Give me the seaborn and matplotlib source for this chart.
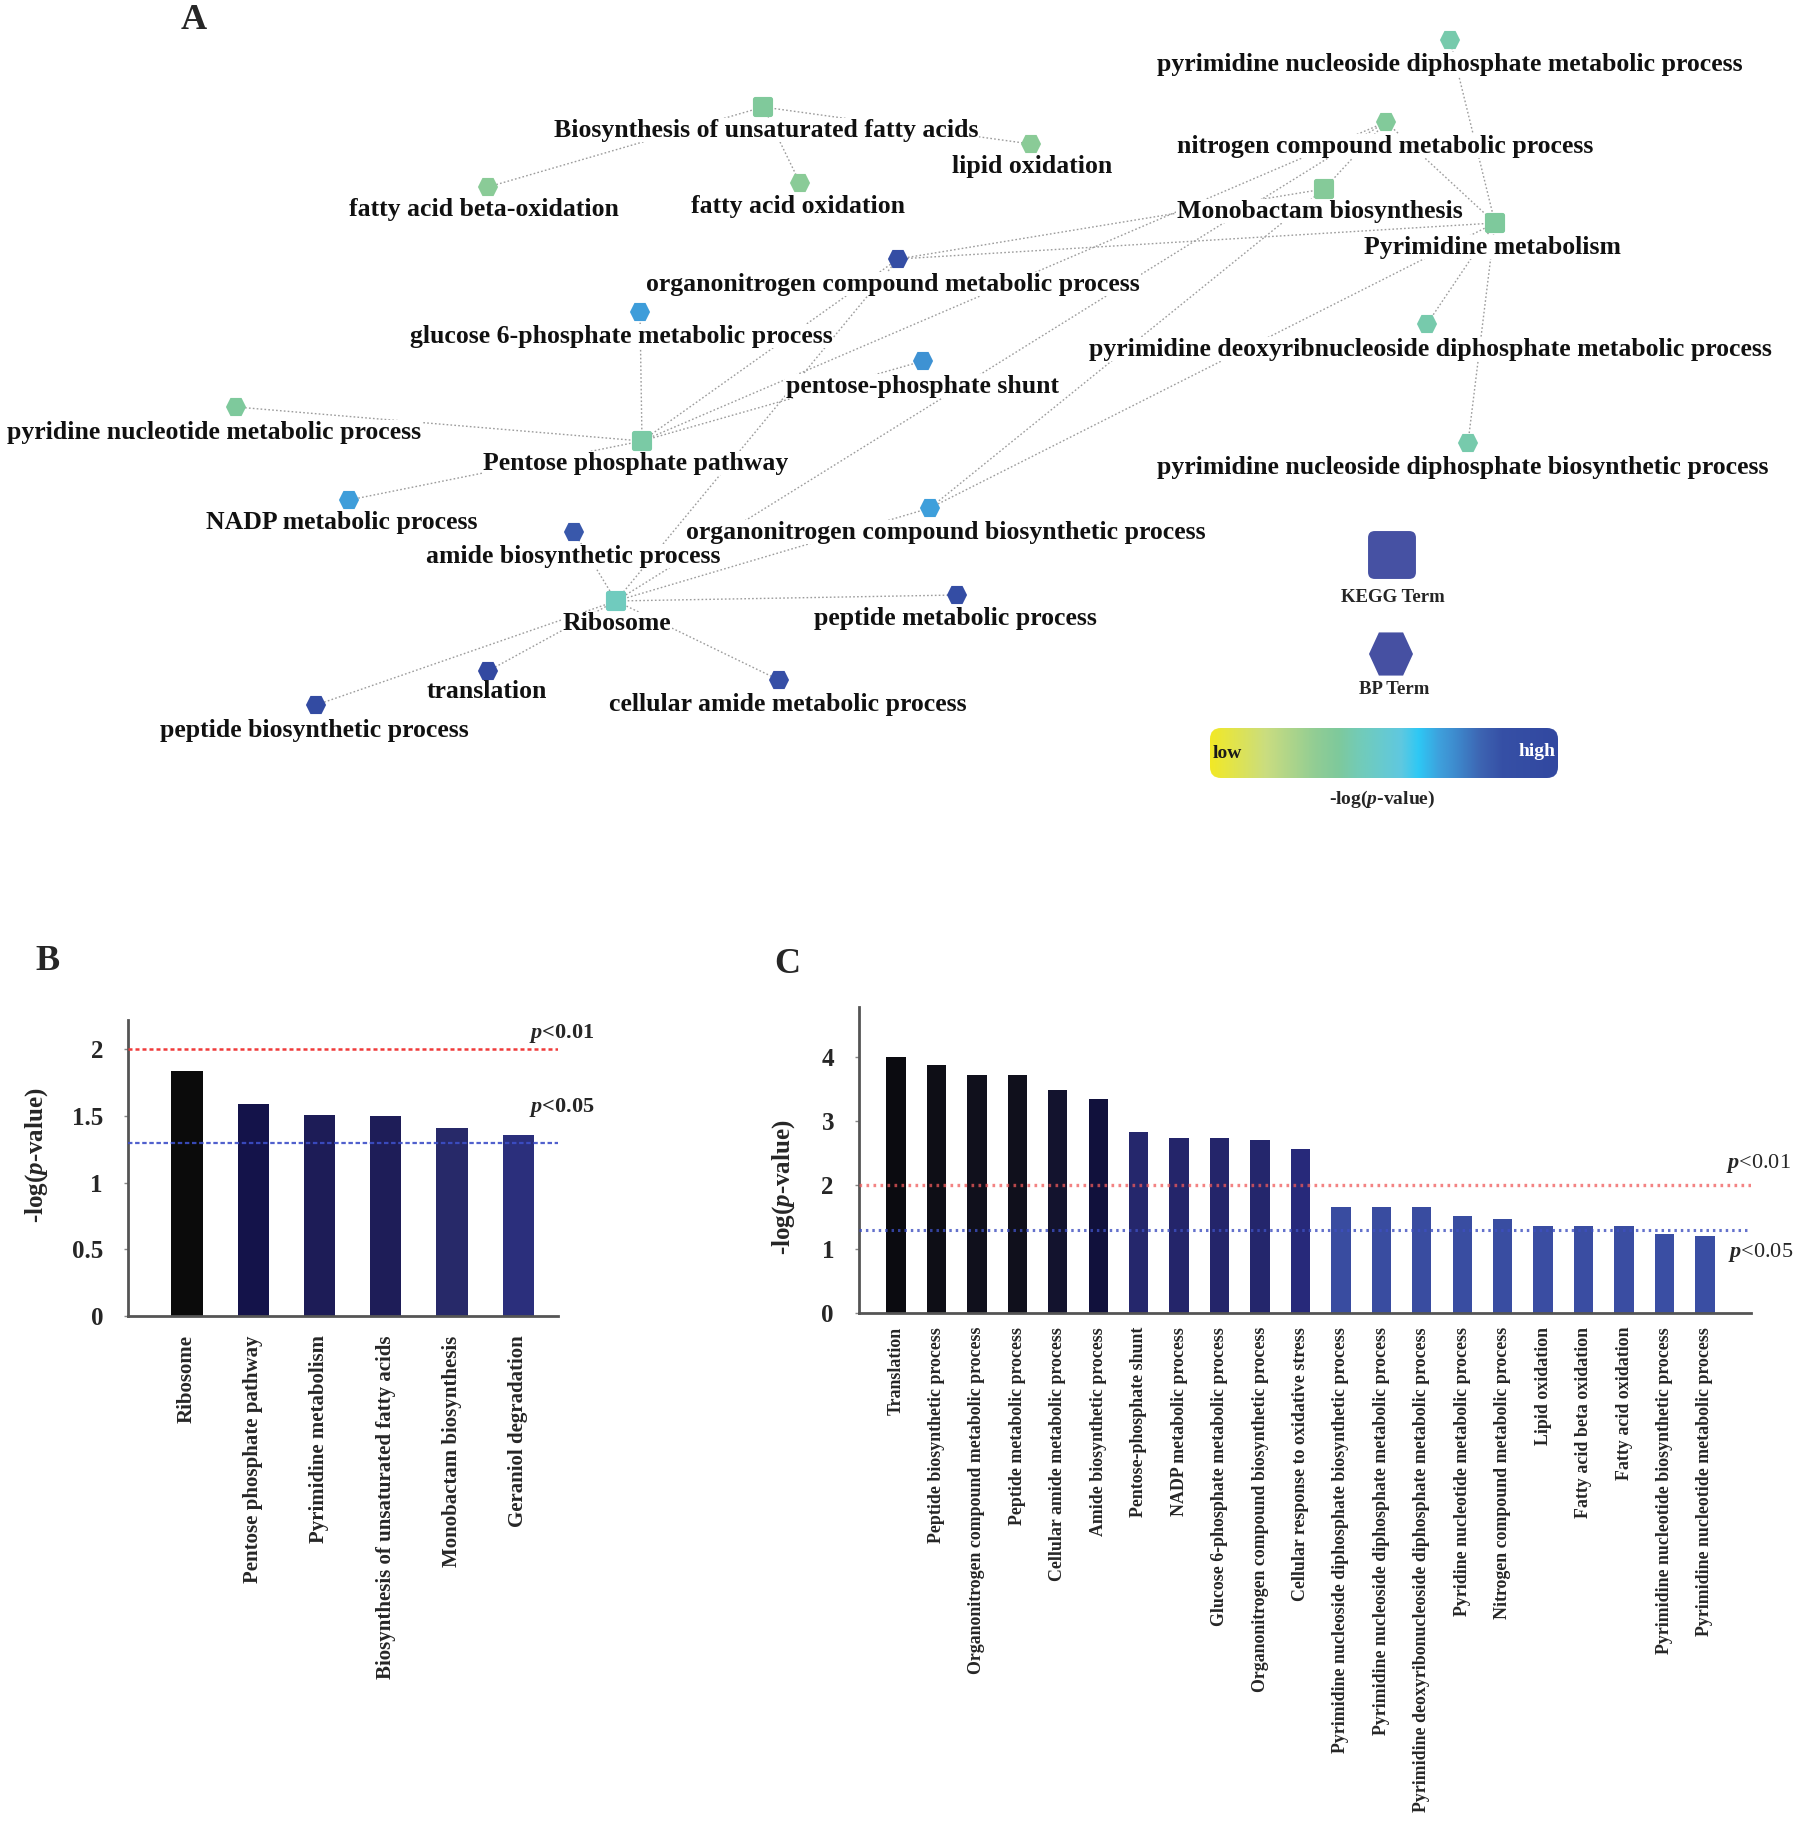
import numpy as np
import pandas as pd
import matplotlib
matplotlib.use("Agg")
import matplotlib.pyplot as plt
import seaborn as sns
from matplotlib.path import Path
from matplotlib.colors import LinearSegmentedColormap, Normalize
from matplotlib.patches import FancyBboxPatch

# ------------------------------------------------------------------ data
kegg_terms = ["Ribosome", "Pentose phosphate pathway", "Pyrimidine metabolism",
              "Biosynthesis of unsaturated fatty acids", "Monobactam biosynthesis",
              "Geraniol degradation"]
kegg_values = [1.84, 1.59, 1.51, 1.50, 1.41, 1.36]

bp_terms = ["Translation", "Peptide biosynthetic process",
            "Organonitrogen compound metabolic process", "Peptide metabolic process",
            "Cellular amide metabolic process", "Amide biosynthetic process",
            "Pentose-phosphate shunt", "NADP metabolic process",
            "Glucose 6-phosphate metabolic process",
            "Organonitrogen compound biosynthetic process",
            "Cellular response to oxidative stress",
            "Pyrimidine nucleoside diphosphate biosynthetic process",
            "Pyrimidine nucleoside diphosphate metabolic process",
            "Pyrimidine deoxyribonucleoside diphosphate metabolic process",
            "Pyridine nucleotide metabolic process",
            "Nitrogen compound metabolic process", "Lipid oxidation",
            "Fatty acid beta oxidation", "Fatty acid oxidation",
            "Pyrimidine nucleotide biosynthetic process",
            "Pyrimidine nucleotide metabolic process"]
bp_values = [4.00, 3.87, 3.71, 3.71, 3.48, 3.34, 2.83, 2.73, 2.73, 2.71, 2.56,
             1.66, 1.66, 1.66, 1.51, 1.47, 1.36, 1.36, 1.36, 1.24, 1.21]

p001_line = 2.0
p005_line = 1.30

b_yticks = [0, 0.5, 1, 1.5, 2]
b_yticklabels = ["0", "0.5", "1", "1.5", "2"]
c_yticks = [0, 1, 2, 3, 4]
c_yticklabels = ["0", "1", "2", "3", "4"]

# network: KEGG nodes (shown names) and BP nodes (shown name -> bar term)
net_kegg = ["Biosynthesis of unsaturated fatty acids", "Monobactam biosynthesis",
            "Pyrimidine metabolism", "Pentose phosphate pathway", "Ribosome"]
net_bp = {
    "pyrimidine nucleoside diphosphate metabolic process": "Pyrimidine nucleoside diphosphate metabolic process",
    "nitrogen compound metabolic process": "Nitrogen compound metabolic process",
    "lipid oxidation": "Lipid oxidation",
    "fatty acid beta-oxidation": "Fatty acid beta oxidation",
    "fatty acid oxidation": "Fatty acid oxidation",
    "organonitrogen compound metabolic process": "Organonitrogen compound metabolic process",
    "glucose 6-phosphate metabolic process": "Glucose 6-phosphate metabolic process",
    "pyrimidine deoxyribnucleoside diphosphate metabolic process": "Pyrimidine deoxyribonucleoside diphosphate metabolic process",
    "pentose-phosphate shunt": "Pentose-phosphate shunt",
    "pyridine nucleotide metabolic process": "Pyridine nucleotide metabolic process",
    "pyrimidine nucleoside diphosphate biosynthetic process": "Pyrimidine nucleoside diphosphate biosynthetic process",
    "NADP metabolic process": "NADP metabolic process",
    "organonitrogen compound biosynthetic process": "Organonitrogen compound biosynthetic process",
    "amide biosynthetic process": "Amide biosynthetic process",
    "peptide metabolic process": "Peptide metabolic process",
    "translation": "Translation",
    "cellular amide metabolic process": "Cellular amide metabolic process",
    "peptide biosynthetic process": "Peptide biosynthetic process",
}

edges = [
    ("Biosynthesis of unsaturated fatty acids", "fatty acid beta-oxidation"),
    ("Biosynthesis of unsaturated fatty acids", "fatty acid oxidation"),
    ("Biosynthesis of unsaturated fatty acids", "lipid oxidation"),
    ("Pentose phosphate pathway", "glucose 6-phosphate metabolic process"),
    ("Pentose phosphate pathway", "pentose-phosphate shunt"),
    ("Pentose phosphate pathway", "pyridine nucleotide metabolic process"),
    ("Pentose phosphate pathway", "NADP metabolic process"),
    ("Pentose phosphate pathway", "organonitrogen compound metabolic process"),
    ("Pentose phosphate pathway", "nitrogen compound metabolic process"),
    ("Monobactam biosynthesis", "nitrogen compound metabolic process"),
    ("Monobactam biosynthesis", "organonitrogen compound metabolic process"),
    ("Monobactam biosynthesis", "organonitrogen compound biosynthetic process"),
    ("Pyrimidine metabolism", "pyrimidine nucleoside diphosphate metabolic process"),
    ("Pyrimidine metabolism", "nitrogen compound metabolic process"),
    ("Pyrimidine metabolism", "pyrimidine deoxyribnucleoside diphosphate metabolic process"),
    ("Pyrimidine metabolism", "pyrimidine nucleoside diphosphate biosynthetic process"),
    ("Pyrimidine metabolism", "organonitrogen compound metabolic process"),
    ("Pyrimidine metabolism", "organonitrogen compound biosynthetic process"),
    ("Ribosome", "amide biosynthetic process"),
    ("Ribosome", "translation"),
    ("Ribosome", "peptide biosynthetic process"),
    ("Ribosome", "peptide metabolic process"),
    ("Ribosome", "cellular amide metabolic process"),
    ("Ribosome", "organonitrogen compound biosynthetic process"),
    ("Ribosome", "organonitrogen compound metabolic process"),
    ("Ribosome", "nitrogen compound metabolic process"),
]

# ------------------------------------------------------------------ layout (pixels, origin top-left)
layout = {  # node (x, y), label (x, y)
    "Biosynthesis of unsaturated fatty acids": ((763, 107), (766, 130)),
    "Monobactam biosynthesis": ((1324, 189), (1320, 211)),
    "Pyrimidine metabolism": ((1495, 223), (1492, 247)),
    "Pentose phosphate pathway": ((642, 441), (636, 463)),
    "Ribosome": ((616, 601), (617, 624)),
    "pyrimidine nucleoside diphosphate metabolic process": ((1450, 40), (1450, 64)),
    "nitrogen compound metabolic process": ((1386, 122), (1385, 146)),
    "lipid oxidation": ((1031, 144), (1032, 166)),
    "fatty acid beta-oxidation": ((488, 187), (484, 209)),
    "fatty acid oxidation": ((800, 183), (798, 206)),
    "organonitrogen compound metabolic process": ((898, 259), (893, 284)),
    "glucose 6-phosphate metabolic process": ((640, 312), (621, 336)),
    "pyrimidine deoxyribnucleoside diphosphate metabolic process": ((1427, 324), (1430, 349)),
    "pentose-phosphate shunt": ((923, 361), (922, 386)),
    "pyridine nucleotide metabolic process": ((236, 407), (214, 432)),
    "pyrimidine nucleoside diphosphate biosynthetic process": ((1468, 443), (1463, 467)),
    "NADP metabolic process": ((349, 500), (342, 523)),
    "organonitrogen compound biosynthetic process": ((930, 508), (946, 532)),
    "amide biosynthetic process": ((574, 532), (573, 556)),
    "peptide metabolic process": ((957, 595), (955, 618)),
    "translation": ((488, 671), (487, 692)),
    "cellular amide metabolic process": ((779, 680), (788, 704)),
    "peptide biosynthetic process": ((316, 705), (314, 730)),
}

# ------------------------------------------------------------------ style
sns.set_theme(style="white")
plt.rcParams["font.family"] = ["Liberation Serif", "DejaVu Serif"]
plt.rcParams["font.weight"] = "bold"
plt.rcParams["mathtext.fontset"] = "custom"
plt.rcParams["mathtext.rm"] = "Liberation Serif:bold"
plt.rcParams["mathtext.it"] = "Liberation Serif:italic:bold"
plt.rcParams["mathtext.bf"] = "Liberation Serif:bold"
plt.rcParams["mathtext.sf"] = "Liberation Serif:italic"

net_cmap = LinearSegmentedColormap.from_list("net", [
    (0.0, "#f2e926"), (0.16, "#cadd80"), (0.30, "#92cd94"), (0.37, "#7ec99c"),
    (0.42, "#74cbb4"), (0.47, "#6ccbc6"), (0.55, "#5fc8e0"), (0.60, "#2ec8f5"),
    (0.66, "#3ea0dc"), (0.70, "#3e8ed0"), (0.78, "#3d64b2"), (0.84, "#3650a6"),
    (1.0, "#3248a0")])
net_norm = Normalize(0.0, 4.1)

b_cmap = LinearSegmentedColormap.from_list("b", [
    (0.0, "#2b2f7c"), (0.104, "#272969"), (0.29, "#1e1d58"), (0.31, "#1d1c57"),
    (0.48, "#14134a"), (1.0, "#0b0b0b")])
c_cmap = LinearSegmentedColormap.from_list("c", [
    (0.0, "#3a4ea3"), (0.161, "#394ca0"), (0.484, "#27297a"), (0.545, "#24256a"),
    (0.581, "#25276c"), (0.763, "#11113c"), (0.814, "#13132e"), (0.896, "#10101c"),
    (0.953, "#0e0e16"), (1.0, "#0b0b10")])

W, H = 1800, 1825
fig = plt.figure(figsize=(W / 100, H / 100), dpi=100)

# ------------------------------------------------------------------ panel A (network)
ax = fig.add_axes([0, 0, 1, 1])
ax.set_xlim(0, W)
ax.set_ylim(H, 0)
ax.axis("off")

def rounded_square(r=0.3):
    v = [(-1 + r, -1), (1 - r, -1), (1, -1), (1, -1 + r), (1, 1 - r), (1, 1), (1 - r, 1),
         (-1 + r, 1), (-1, 1), (-1, 1 - r), (-1, -1 + r), (-1, -1), (-1 + r, -1), (-1 + r, -1)]
    c = [Path.MOVETO, Path.LINETO, Path.CURVE3, Path.CURVE3, Path.LINETO, Path.CURVE3,
         Path.CURVE3, Path.LINETO, Path.CURVE3, Path.CURVE3, Path.LINETO, Path.CURVE3,
         Path.CURVE3, Path.CLOSEPOLY]
    return Path(v, c)

def hexagon(hy=0.9):
    v = [(-1, 0), (-0.55, -hy), (0.55, -hy), (1, 0), (0.55, hy), (-0.55, hy), (-1, 0)]
    return Path(v, [Path.MOVETO] + [Path.LINETO] * 5 + [Path.CLOSEPOLY])

sq_marker = rounded_square(0.25)
hex_marker = hexagon(0.9)

bp_lookup = dict(zip(bp_terms, bp_values))
kegg_lookup = dict(zip(kegg_terms, kegg_values))

for a, b in edges:
    (x1, y1), _ = layout[a]
    (x2, y2), _ = layout[b]
    ax.plot([x1, x2], [y1, y2], ls=(0, (1.2, 1.6)), color="#9c9c9c", lw=1.0, zorder=1)

label_kw = dict(ha="center", va="center", fontsize=18.5, fontweight="bold", color="#111111",
                zorder=3, bbox=dict(fc="white", ec="none", pad=0.6))

for name in net_kegg:
    (nx, ny), (lx, ly) = layout[name]
    ax.scatter([nx], [ny], marker=sq_marker, s=14.5 ** 2,
               color=net_cmap(net_norm(kegg_lookup[name])), edgecolor="none", zorder=5)
    ax.text(lx, ly, name, **label_kw)

for name, src in net_bp.items():
    (nx, ny), (lx, ly) = layout[name]
    ax.scatter([nx], [ny], marker=hex_marker, s=14.5 ** 2,
               color=net_cmap(net_norm(bp_lookup[src])), edgecolor="none", zorder=5)
    ax.text(lx, ly, name, **label_kw)

# legend
ax.scatter([1392], [555], marker=rounded_square(0.28), s=34.5 ** 2, color="#4651a3",
           edgecolor="none", zorder=5)
ax.text(1393, 597, "KEGG Term", ha="center", va="center", fontsize=13.5, fontweight="bold")
ax.scatter([1391], [654], marker=hexagon(0.98), s=31.7 ** 2, color="#4650a2",
           edgecolor="none", zorder=5)
ax.text(1394, 690, "BP Term", ha="center", va="center", fontsize=13.5, fontweight="bold")

grad = np.linspace(0, 1, 512).reshape(1, -1)
im = ax.imshow(grad, extent=(1210, 1558, 778, 728), cmap=net_cmap, aspect="auto",
               interpolation="bilinear", zorder=2)
clip = FancyBboxPatch((1210, 728), 348, 50, boxstyle="round,pad=0,rounding_size=11",
                      transform=ax.transData, fc="none", ec="none")
ax.add_patch(clip)
im.set_clip_path(clip)
ax.set_xlim(0, W)
ax.set_ylim(H, 0)
ax.text(1213, 753, "low", ha="left", va="center", fontsize=14, fontweight="bold",
        color="#1a1a1a", zorder=4)
ax.text(1556, 752, "high", ha="right", va="center", fontsize=14, fontweight="bold",
        color="white", zorder=4)
ax.text(1382, 799, "-log($\\mathit{p}$-value)", ha="center", va="center", fontsize=14,
        fontweight="bold")

# panel letters
ax.text(194, 20, "A", ha="center", va="center", fontsize=26, fontweight="bold")
ax.text(48, 961, "B", ha="center", va="center", fontsize=26, fontweight="bold")
ax.text(787, 964, "C", ha="center", va="center", fontsize=26, fontweight="bold")

# ------------------------------------------------------------------ bar panels
def style_bar_axes(a, yticks, yticklabels, xfs, xpad):
    a.set_facecolor("none")
    sns.despine(ax=a)
    for s in ("left", "bottom"):
        a.spines[s].set_color("#555555")
        a.spines[s].set_linewidth(2)
    a.set_yticks(yticks)
    a.set_yticklabels(yticklabels, fontsize=18, fontweight="bold")
    a.tick_params(axis="y", length=3, width=1, color="#888888", pad=15, left=True)
    a.tick_params(axis="x", length=0, pad=xpad)
    for t in a.get_xticklabels():
        t.set_rotation(90)
        t.set_fontsize(xfs)
        t.set_fontweight("bold")
        t.set_ha("center")
        t.set_va("top")
    a.set_xlabel("")
    a.set_ylabel("-log($\\mathit{p}$-value)", fontsize=18, fontweight="bold")
    a.yaxis.label.set_va("center")

# B
axB = fig.add_axes([128 / W, (H - 1316) / H, 430 / W, 296 / H])
dfB = pd.DataFrame({"term": kegg_terms, "value": kegg_values})
palB = [b_cmap(Normalize(min(kegg_values), max(kegg_values))(v)) for v in kegg_values]
sns.barplot(data=dfB, x="term", y="value", hue="term", order=kegg_terms,
            hue_order=kegg_terms, palette=palB, width=0.47, saturation=1,
            legend=False, ax=axB, edgecolor="none", zorder=2)
axB.set_xlim(-0.89, 5.6)
axB.set_ylim(0, 2.22)
style_bar_axes(axB, b_yticks, b_yticklabels, 15, 14)
axB.yaxis.set_label_coords(-0.212, 0.544)
axB.axhline(p001_line, color="#f03a3a", ls=(0, (1.6, 1.2)), lw=1.8, zorder=3)
axB.axhline(p005_line, color="#3d4fc8", ls=(0, (2.0, 1.2)), lw=1.6, zorder=3, alpha=0.9)
tB = axB.get_yaxis_transform()
axB.text(1.009, 2.12, "$p$<0.01", transform=tB, ha="center", va="center",
         fontsize=16, fontweight="bold")
axB.text(1.009, 1.566, "$p$<0.05", transform=tB, ha="center", va="center",
         fontsize=16, fontweight="bold")

# C
axC = fig.add_axes([859 / W, (H - 1313) / H, 892 / W, 306 / H])
dfC = pd.DataFrame({"term": bp_terms, "value": bp_values})
palC = [c_cmap(Normalize(min(bp_values), max(bp_values))(v)) for v in bp_values]
sns.barplot(data=dfC, x="term", y="value", hue="term", order=bp_terms,
            hue_order=bp_terms, palette=palC, width=0.48, saturation=1,
            legend=False, ax=axC, edgecolor="none", zorder=2)
axC.set_xlim(-0.915, 21.14)
axC.set_ylim(0, 4.78)
style_bar_axes(axC, c_yticks, c_yticklabels, 12.9, 10)
axC.yaxis.set_label_coords(-0.085, 0.41)
axC.axhline(p001_line, color="#f05a5a", ls=(0, (0.8, 1.3)), lw=2.4, zorder=3, alpha=0.75)
axC.axhline(p005_line, color="#3d4fc0", ls=(0, (0.8, 1.3)), lw=2.2, zorder=3, alpha=0.8)
tC = axC.get_yaxis_transform()
axC.text(1.008, 2.34, "$\\mathsf{p}$<0.01", transform=tC, ha="center", va="center",
         fontsize=16, fontweight="normal")
axC.text(1.011, 0.94, "$\\mathsf{p}$<0.05", transform=tC, ha="center", va="center",
         fontsize=16, fontweight="normal")

fig.savefig("out.png", dpi=100)
